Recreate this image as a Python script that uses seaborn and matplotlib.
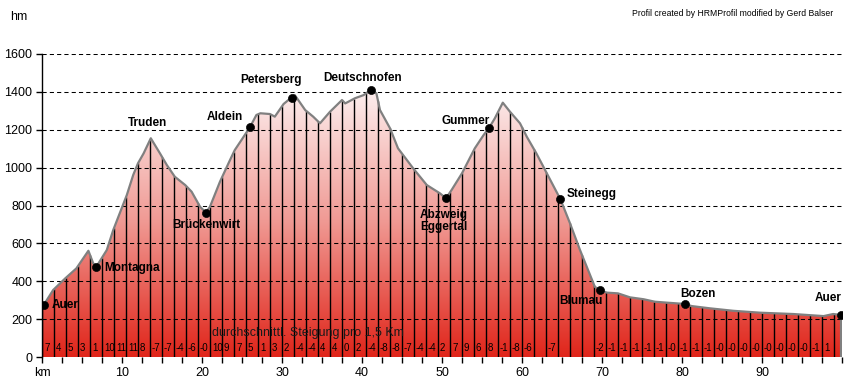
import numpy as np
import matplotlib
matplotlib.use('Agg')
import matplotlib.pyplot as plt
from matplotlib.colors import LinearSegmentedColormap
from matplotlib.patches import Polygon
from matplotlib.ticker import MultipleLocator
import seaborn as sns

# ── DATA ───────────────────────────────────────────────────
# elevation profile (km along route, metres)
profile_km = [0, 1.4, 2.9, 4.3, 5.8, 6.4, 6.8, 8.1, 8.9, 10.6, 11.4, 12.0, 12.7,
              13.6, 14.75, 15.6, 16.6, 17.9, 18.7, 19.75, 20.5, 21.0, 22.25, 23.5,
              24.1, 25.0, 26.0, 26.8, 27.3, 28.5, 29.1, 30.2, 31.2, 31.6, 32.9,
              33.9, 34.75, 36.0, 37.5, 37.9, 39.1, 40.2, 41.1, 41.8, 42.25, 43.5,
              44.5, 46.4, 48.1, 49.75, 50.5, 51.2, 52.5, 54.1, 55.2, 55.9, 56.6,
              57.6, 58.5, 59.75, 60.6, 61.8, 63.1, 64.8, 66.0, 67.25, 69.1, 69.7,
              70.6, 72.0, 73.5, 75.2, 76.6, 78.1, 80.4, 81.2, 83.5, 86.4, 89.75,
              93.9, 97.7, 98.9, 99.85]
profile_elev = [260, 354, 415, 468, 561, 495, 477, 565, 670, 855, 961, 1023, 1075,
                1155, 1075, 1014, 952, 908, 873, 794, 762, 794, 926, 1040,
                1093, 1150, 1214, 1278, 1287, 1283, 1269, 1336, 1371, 1383, 1304,
                1269, 1234, 1295, 1357, 1339, 1366, 1383, 1410, 1392, 1304, 1208,
                1102, 996, 908, 864, 838, 882, 970, 1102, 1172, 1211, 1260,
                1343, 1295, 1234, 1163, 1075, 970, 833, 706, 565, 371, 354,
                340, 336, 315, 305, 292, 287, 280, 269, 257, 244, 234,
                227, 216, 227, 222]

# named places
place_names = ['Auer', 'Montagna', 'Truden', 'Brückenwirt', 'Aldein', 'Petersberg',
               'Deutschnofen', 'Abzweig\nEggertal', 'Gummer', 'Steinegg', 'Blumau',
               'Bozen', 'Auer']
place_km = [0.2, 6.8, 13.6, 20.5, 26.0, 31.2, 41.1, 50.5, 55.9, 64.8, 69.7, 80.4, 99.85]
place_elev = [275, 477, 1155, 762, 1214, 1369, 1410, 838, 1211, 833, 354, 280, 222]
place_dot = [True, True, False, True, True, True, True, True, True, True, True, True, True]

# average gradient per 1.5 km section
SECTION = 1.5
gradients = ['7', '4', '5', '3', '1', '10', '11', '11', '8', '-7', '-7', '-4', '-6',
             '-0', '10', '9', '7', '5', '1', '3', '2', '-4', '-4', '4', '4', '0', '2',
             '-4', '-8', '-8', '-7', '-4', '-4', '2', '7', '9', '6', '8', '-1', '-8',
             '-6', '', '-7', '', '', '', '-2', '-1', '-1', '-1', '-1', '-1', '-0', '-1',
             '-1', '-1', '-0', '-0', '-0', '-0', '-0', '-0', '-0', '-0', '-1', '1', '']

# label offsets in pixels (x, y) and alignment
label_style = [((8, 0), 'left'), ((8, -1), 'left'), ((-3, 15), 'center'),
               ((0, -12), 'center'), ((-7, 10), 'right'), ((-21, 18), 'center'),
               ((-8, 12), 'center'), ((-26, -23), 'left'), ((-24, 7), 'center'),
               ((6, 5), 'left'), ((3, -11), 'right'), ((-5, 10), 'left'),
               ((1, 17), 'right')]

# ── STYLE ──────────────────────────────────────────────────
sns.set_style('white')
plt.rcParams['font.family'] = ['Liberation Sans', 'DejaVu Sans']
plt.rcParams['text.color'] = 'black'
plt.rcParams['xtick.color'] = 'black'
plt.rcParams['ytick.color'] = 'black'
plt.rcParams['axes.labelcolor'] = 'black'

fig = plt.figure(figsize=(8.52, 3.79), dpi=100)
ax = fig.add_axes([42 / 852, 22 / 379, 800 / 852, 303 / 379])

km = np.array(profile_km)
elev = np.array(profile_elev)

# gradient fill clipped to the profile
cmap = LinearSegmentedColormap.from_list('prof', ['#e0251a', '#f09a94', '#fdf2f2'])
grad = np.linspace(0, 1, 256).reshape(-1, 1)
verts = [(km[0], 0)] + list(zip(km, elev)) + [(km[-1], 0)]
patch = Polygon(verts, closed=True, facecolor='none', edgecolor='none')
ax.add_patch(patch)
img = ax.imshow(grad, extent=[km[0], km[-1], 0, 1440], aspect='auto',
                cmap=cmap, origin='lower', zorder=1)
img.set_clip_path(patch)

# section separators
sec_x = np.arange(len(gradients)) * SECTION
sec_top = np.interp(sec_x, km, elev)
ax.vlines(sec_x, 0, sec_top, color='black', lw=1.0, zorder=3)

# dashed grid
for yv in range(200, 1601, 200):
    ax.plot([0, 100], [yv, yv], color='black', lw=0.75,
            linestyle=(0, (4, 3)), zorder=4)

# profile line
sns.lineplot(x=km, y=elev, ax=ax, color='#808080', lw=1.6,
             estimator=None, zorder=5)
ax.vlines(km[-1], 0, elev[-1], color='#808080', lw=1.6, zorder=5)

# gradient numbers
for x0, g in zip(sec_x, gradients):
    if g:
        ax.text(x0 + 0.25, 45, g, fontsize=7, ha='left', va='center',
                color='black', zorder=6)
ax.text(21.25, 127, 'durchschnittl. Steigung pro 1,5 Km', fontsize=9,
        ha='left', va='center', color='#1a1a1a', zorder=6)

# places
mask = np.array(place_dot)
sns.scatterplot(x=np.array(place_km)[mask], y=np.array(place_elev)[mask], ax=ax,
                color='black', s=34, edgecolor='black', zorder=7, legend=False)
for name, x, y, (off, ha) in zip(place_names, place_km, place_elev, label_style):
    ax.annotate(name, (x, y), xytext=off, textcoords='offset pixels',
                ha=ha, va='center', fontsize=8.5, fontweight='bold',
                color='black', linespacing=1.0, zorder=8)

# axes
ax.set_xlim(0, 100)
ax.set_ylim(0, 1600)
ax.set_xticks(range(0, 100, 10))
ax.set_xticklabels(['km'] + [str(v) for v in range(10, 100, 10)])
ax.xaxis.set_minor_locator(MultipleLocator(2.5))
ax.set_yticks(range(0, 1601, 200))
ax.tick_params(axis='both', which='both', direction='out', length=4, width=1,
               color='black', labelcolor='black', labelsize=9, pad=3)
ax.tick_params(axis='x', which='both', bottom=True)
ax.tick_params(axis='y', left=True)
for s in ['top', 'right', 'bottom']:
    ax.spines[s].set_visible(False)
ax.spines['left'].set_color('black')
ax.spines['left'].set_linewidth(1)

fig.text(10 / 852, 1 - 17 / 379, 'hm', fontsize=9, va='center')
fig.text(833 / 852, 1 - 13 / 379,
         'Profil created by HRMProfil modified by Gerd Balser',
         fontsize=6.2, ha='right', va='center')

fig.savefig('out.png', dpi=100, facecolor='white')
